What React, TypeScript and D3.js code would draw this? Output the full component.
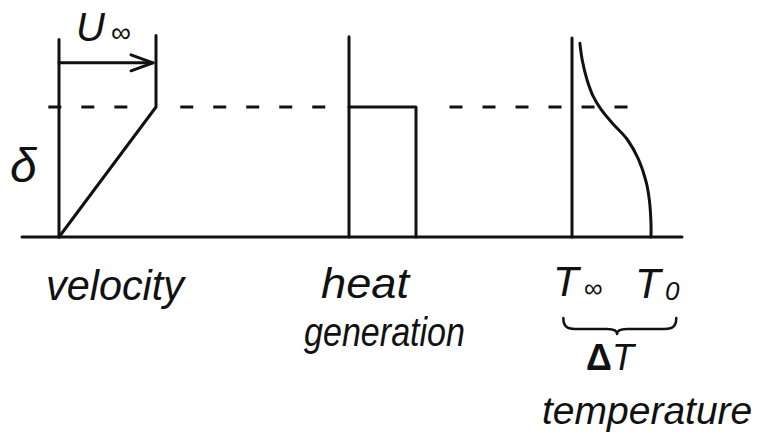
import React from 'react';
import * as d3 from 'd3';

// Profiles in dimensionless units: height in boundary-layer thicknesses (delta = 1)
const velocityProfile = [
  { u: 0, y: 0 },
  { u: 1, y: 1 },
  { u: 1, y: 1.55 },
];
const heatProfile = [
  { q: 0, y: 1 },
  { q: 1, y: 1 },
  { q: 1, y: 0 },
];
const temperatureProfile = [
  { t: 0.1, y: 1.49 },
  { t: 0.13, y: 1.36 },
  { t: 0.19, y: 1.21 },
  { t: 0.27, y: 1.08 },
  { t: 0.37, y: 0.98 },
  { t: 0.52, y: 0.87 },
  { t: 0.7, y: 0.75 },
  { t: 0.84, y: 0.6 },
  { t: 0.94, y: 0.42 },
  { t: 0.98, y: 0.28 },
  { t: 1.0, y: 0.1 },
  { t: 1.0, y: 0 },
];
const axisTops = { velocity: 1.52, heat: 1.54, temperature: 1.53 };
const panelLabels = ['velocity', 'heat', 'generation', 'temperature'];

const W = 760;
const H = 442;
const INK = '#111';
const FONT = '"Liberation Sans", "DejaVu Sans", sans-serif';

export default function App() {
  const y = d3.scaleLinear().domain([0, 1]).range([237, 107]);
  const velX = d3.scaleLinear().domain([0, 1]).range([59, 156]);
  const heatX = d3.scaleLinear().domain([0, 1]).range([349, 416]);
  const tempX = d3.scaleLinear().domain([0, 1]).range([572, 651]);

  const velLine = d3.line<{ u: number; y: number }>().x(d => velX(d.u)).y(d => y(d.y));
  const heatLine = d3.line<{ q: number; y: number }>().x(d => heatX(d.q)).y(d => y(d.y));
  const tempLine = d3
    .line<{ t: number; y: number }>()
    .x(d => tempX(d.t))
    .y(d => y(d.y))
    .curve(d3.curveCatmullRom.alpha(0.5));

  const stroke = {
    stroke: INK,
    strokeWidth: 3,
    fill: 'none',
    strokeLinecap: 'round' as const,
    strokeLinejoin: 'round' as const,
  };

  // dashed delta line segments, interrupted at the profiles
  const dashSpans = [
    [velX(-0.11), velX(0.8)],
    [velX(1.25), heatX(-0.1)],
    [heatX(1.5), tempX(0.85)],
  ];

  // arrow for U_inf
  const arrowY = y(1.34);
  const tipX = velX(1) - 3;

  // brace under T_inf .. T_0
  const bL = tempX(-0.11);
  const bR = tempX(1.32);
  const bM = tempX(0.57);
  const bTop = 318;
  const bMid = 329;
  const bTip = 334;
  const brace = `M${bL},${bTop} C${bL},${bMid} ${bL + 6},${bMid} ${bL + 16},${bMid}
    L${bM - 10},${bMid} C${bM - 4},${bMid} ${bM},${bMid + 1} ${bM},${bTip}
    C${bM},${bMid + 1} ${bM + 4},${bMid} ${bM + 10},${bMid}
    L${bR - 16},${bMid} C${bR - 6},${bMid} ${bR},${bMid} ${bR},${bTop}`;

  return (
    <svg
      width={W}
      height={H}
      style={{ position: 'absolute', left: 0, top: 0, background: '#fff' }}
    >
      {/* wall / baseline */}
      <line x1={22} x2={682} y1={y(0)} y2={y(0)} {...stroke} />

      {/* dashed delta line */}
      {dashSpans.map(([a, b], i) => (
        <line
          key={i}
          x1={a}
          x2={b}
          y1={y(1)}
          y2={y(1)}
          {...stroke}
          strokeLinecap="butt"
          strokeDasharray="13 20"
        />
      ))}

      {/* velocity */}
      <line x1={velX(0)} x2={velX(0)} y1={y(0)} y2={y(axisTops.velocity)} {...stroke} />
      <path d={velLine(velocityProfile) ?? ''} {...stroke} />
      <line x1={velX(0)} x2={tipX} y1={arrowY} y2={arrowY} {...stroke} />
      <path
        d={`M${tipX - 22},${arrowY - 8} L${tipX},${arrowY} L${tipX - 22},${arrowY + 8}`}
        {...stroke}
      />

      {/* heat generation */}
      <line x1={heatX(0)} x2={heatX(0)} y1={y(0)} y2={y(axisTops.heat)} {...stroke} />
      <path d={heatLine(heatProfile) ?? ''} {...stroke} />

      {/* temperature */}
      <line x1={tempX(0)} x2={tempX(0)} y1={y(0)} y2={y(axisTops.temperature)} {...stroke} />
      <path d={tempLine(temperatureProfile) ?? ''} {...stroke} />
      <path d={brace} {...stroke} strokeWidth={2.5} />

      {/* labels */}
      <g fontFamily={FONT} fontStyle="italic" fill={INK}>
        <text x={76} y={41} fontSize={40}>U</text>
        <text x={111} y={42} fontSize={28} fontStyle="normal">∞</text>
        <text x={10} y={182} fontSize={48}>δ</text>

        <text x={46} y={300} fontSize={42} textLength={138} lengthAdjust="spacingAndGlyphs">
          {panelLabels[0]}
        </text>
        <text x={321} y={298} fontSize={42} textLength={88} lengthAdjust="spacingAndGlyphs">
          {panelLabels[1]}
        </text>
        <text x={304} y={346} fontSize={40} textLength={161} lengthAdjust="spacingAndGlyphs">
          {panelLabels[2]}
        </text>
        <text x={542} y={424} fontSize={39}>
          {panelLabels[3]}
        </text>

        <text x={tempX(0) - 19} y={296} fontSize={42}>T</text>
        <text x={tempX(0) + 12} y={297} fontSize={26} fontStyle="normal">∞</text>
        <text x={tempX(1) - 16} y={298} fontSize={42}>T</text>
        <text x={tempX(1) + 14} y={300} fontSize={26}>0</text>
        <text x={586} y={370} fontSize={36}>
          <tspan fontStyle="normal" fontWeight="bold">Δ</tspan>T
        </text>
      </g>
    </svg>
  );
}
